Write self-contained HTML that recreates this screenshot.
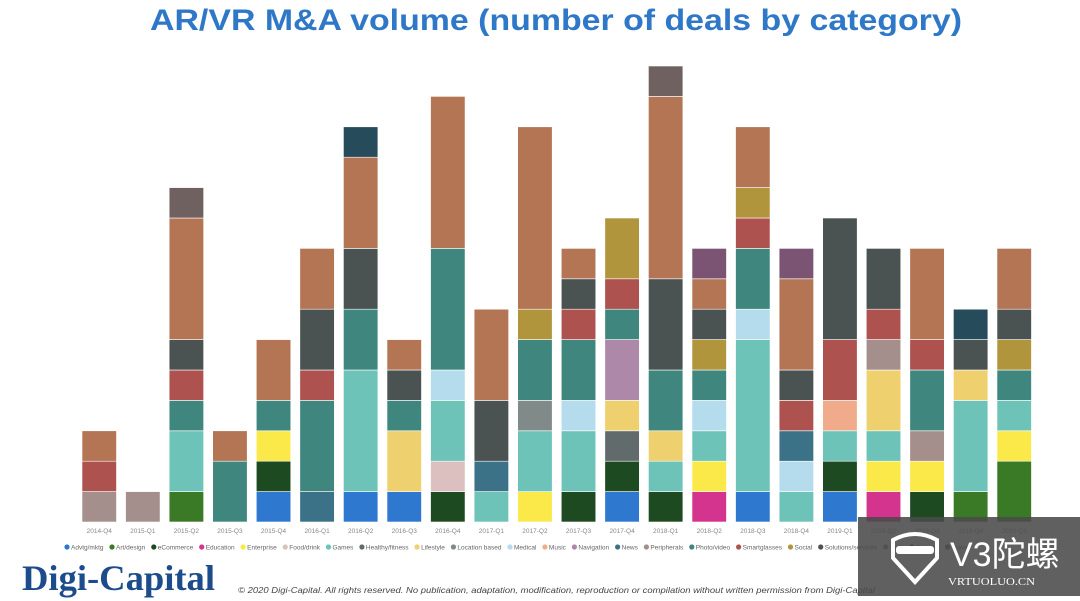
<!DOCTYPE html>
<html><head><meta charset="utf-8">
<style>
html,body{margin:0;padding:0;background:#fff;}
svg{display:block;}
</style></head>
<body>
<svg id="chart" width="1080" height="601" viewBox="0 0 1080 601" xmlns="http://www.w3.org/2000/svg" font-family="Liberation Sans, sans-serif">
<rect width="1080" height="601" fill="#fff"/>
<text x="556" y="30" text-anchor="middle" font-size="30" font-weight="bold" fill="#2f78c8" textLength="812" lengthAdjust="spacingAndGlyphs">AR/VR M&amp;A volume (number of deals by category)</text>
<g id="bars"></g>
<g id="xlabels"></g>
<g id="legend"></g>
<text x="22" y="590" font-family="Liberation Serif, serif" font-size="36" font-weight="bold" fill="#1d4c8c" textLength="193" lengthAdjust="spacingAndGlyphs">Digi-Capital</text>
<text x="238" y="593" font-size="8" font-style="italic" fill="#444" textLength="637" lengthAdjust="spacingAndGlyphs">© 2020 Digi-Capital. All rights reserved. No publication, adaptation, modification, reproduction or compilation without written permission from Digi-Capital</text>
<g>
<rect x="858" y="517" width="222" height="79" fill="#4a4a4a" opacity="0.88"/>
<path d="M893 540 Q915 528 937 540 L937 558 L915 582 L893 558 Z" fill="none" stroke="#fff" stroke-width="4"/>
<rect x="896" y="546" width="38" height="8" rx="3" fill="#fff"/>
<text x="950" y="566" font-family="WenQuanYi Zen Hei, sans-serif" font-size="34" fill="#fff">V3陀螺</text>
<text x="948" y="585" font-family="Liberation Serif, serif" font-size="10" fill="#fff" textLength="87" lengthAdjust="spacingAndGlyphs">VRTUOLUO.CN</text>
</g>
</svg>
<script>
const quarters = ["2014-Q4","2015-Q1","2015-Q2","2015-Q3","2015-Q4","2016-Q1","2016-Q2","2016-Q3","2016-Q4","2017-Q1","2017-Q2","2017-Q3","2017-Q4","2018-Q1","2018-Q2","2018-Q3","2018-Q4","2019-Q1","2019-Q2","2019-Q3","2019-Q4","2020-Q1"];
const categories = ["Advtg/mktg","Art/design","eCommerce","Education","Enterprise","Food/drink","Games","Healthy/fitness","Lifestyle","Location based","Medical","Music","Navigation","News","Peripherals","Photo/video","Smartglasses","Social","Solutions/services","Tech","Training","Travel","Other"];
const colors = ["#2f78d0","#3a7a26","#1e4a21","#d4338e","#fbe94a","#dcc0c0","#6ec3b8","#626b6c","#eed06e","#808a88","#b4dcec","#f0ac8a","#ae88a9","#3c7288","#a48f8c","#3f877e","#ae524f","#b0953c","#4a5252","#b47554","#264c5c","#7a5472","#6e6160"];
// deals per quarter: [categoryIndex, count] bottom-to-top
const deals = [
 [[14,1],[16,1],[19,1]],
 [[14,1]],
 [[1,1],[6,2],[15,1],[16,1],[18,1],[19,4],[22,1]],
 [[15,2],[19,1]],
 [[0,1],[2,1],[4,1],[15,1],[19,2]],
 [[13,1],[15,3],[16,1],[18,2],[19,2]],
 [[0,1],[6,4],[15,2],[18,2],[19,3],[20,1]],
 [[0,1],[8,2],[15,1],[18,1],[19,1]],
 [[2,1],[5,1],[6,2],[10,1],[15,4],[19,5]],
 [[6,1],[13,1],[18,2],[19,3]],
 [[4,1],[6,2],[9,1],[15,2],[17,1],[19,6]],
 [[2,1],[6,2],[10,1],[15,2],[16,1],[18,1],[19,1]],
 [[0,1],[2,1],[7,1],[8,1],[12,2],[15,1],[16,1],[17,2]],
 [[2,1],[6,1],[8,1],[15,2],[18,3],[19,6],[22,1]],
 [[3,1],[4,1],[6,1],[10,1],[15,1],[17,1],[18,1],[19,1],[21,1]],
 [[0,1],[6,5],[10,1],[15,2],[16,1],[17,1],[19,2]],
 [[6,1],[10,1],[13,1],[16,1],[18,1],[19,3],[21,1]],
 [[0,1],[2,1],[6,1],[11,1],[16,2],[18,4]],
 [[3,1],[4,1],[6,1],[8,2],[14,1],[16,1],[18,2]],
 [[2,1],[4,1],[14,1],[15,2],[16,1],[19,3]],
 [[1,1],[6,3],[8,1],[18,1],[20,1]],
 [[1,2],[4,1],[6,1],[15,1],[17,1],[18,1],[19,2]]
];
const legendLabels = ["Advtg/mktg","Art/design","eCommerce","Education","Enterprise","Food/drink","Games","Healthy/fitness","Lifestyle","Location based","Medical","Music","Navigation","News","Peripherals","Photo/video","Smartglasses","Social","Solutions/services","Tech","Training","Travel"];

const NS="http://www.w3.org/2000/svg";
const baseY=522, unit=30.4, x0=82, pitch=43.57, bw=34.5;
const xPos = i => x0 + i*pitch;
const yScale = v => baseY - v*unit;
const gb=document.getElementById('bars'), gx=document.getElementById('xlabels'), gl=document.getElementById('legend');
quarters.forEach((q,i)=>{
  let cum=0;
  deals[i].forEach(([c,n])=>{
    const r=document.createElementNS(NS,'rect');
    r.setAttribute('x',xPos(i)); r.setAttribute('width',bw);
    r.setAttribute('y',yScale(cum+n)); r.setAttribute('height',yScale(cum)-yScale(cum+n));
    r.setAttribute('fill',colors[c]); r.setAttribute('stroke','#fff'); r.setAttribute('stroke-width','0.6');
    
    
    gb.appendChild(r); cum+=n;
  });
  const t=document.createElementNS(NS,'text');
  t.setAttribute('x',xPos(i)+bw/2); t.setAttribute('y',533);
  t.setAttribute('text-anchor','middle'); t.setAttribute('font-size','6.5'); t.setAttribute('fill','#888');
  t.textContent=q;
  
  
  gx.appendChild(t);
});
let lx=64;
legendLabels.forEach((l,i)=>{
  const g=document.createElementNS(NS,'g');
  
  
  const c=document.createElementNS(NS,'circle');
  c.setAttribute('cx',lx+3); c.setAttribute('cy',547); c.setAttribute('r',2.6); c.setAttribute('fill',colors[i]);
  g.appendChild(c);
  const t=document.createElementNS(NS,'text');
  t.setAttribute('x',lx+7); t.setAttribute('y',549.3); t.setAttribute('font-size','6.5'); t.setAttribute('fill','#666');
  t.textContent=l; g.appendChild(t); gl.appendChild(g);
  let w=l.length*3.3;
  try { w=t.getComputedTextLength(); } catch(e) {}
  lx += 7 + w + 5.5;
});
</script>
</body></html>
